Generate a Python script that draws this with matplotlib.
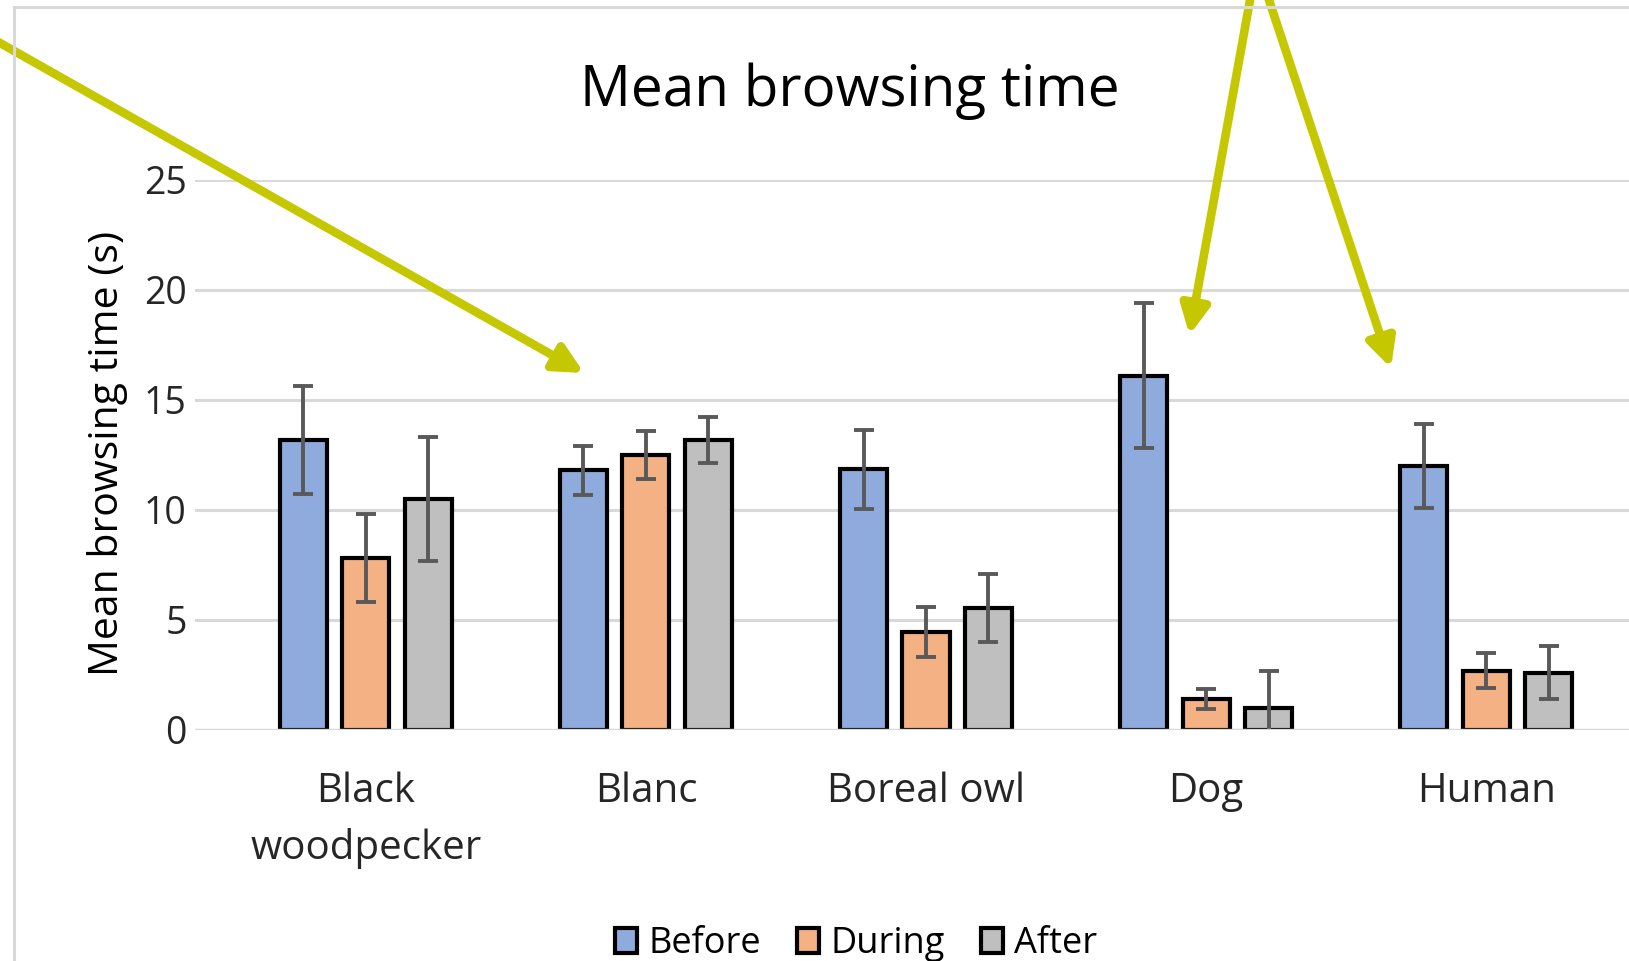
import numpy as np
import matplotlib
matplotlib.use("Agg")
import matplotlib.pyplot as plt
from matplotlib.patches import FancyArrowPatch
from matplotlib.lines import Line2D

plt.rcParams['font.family'] = ['Open Sans', 'DejaVu Sans']

# data
categories = ['Black\nwoodpecker', 'Blanc', 'Boreal owl', 'Dog', 'Human']
before = [13.2, 11.8, 11.85, 16.1, 12.0]
before_err = [2.45, 1.1, 1.8, 3.3, 1.9]
during = [7.8, 12.5, 4.45, 1.4, 2.7]
during_err = [2.0, 1.1, 1.15, 0.45, 0.8]
after = [10.5, 13.2, 5.55, 1.0, 2.6]
after_err = [2.8, 1.05, 1.55, 1.7, 1.2]
series = ['Before', 'During', 'After']
colors = ['#8faadc', '#f4b183', '#bfbfbf']

W, H = 1629, 961
fig = plt.figure(figsize=(W / 100, H / 100), dpi=100)
# plot area: x from 195px to right edge, y from 180px (25) to 730px (0)
ax = fig.add_axes([195 / W, 1 - 730 / H, (W - 195) / W, 550 / H])

x = np.arange(len(categories))
slot = 0.223
bw = 0.168
vals = [before, during, after]
errs = [before_err, during_err, after_err]
for i in range(3):
    ax.bar(x + (i - 1) * slot, vals[i], bw, color=colors[i], edgecolor='black',
           linewidth=3.0, label=series[i], zorder=2)
    ax.errorbar(x + (i - 1) * slot, vals[i], yerr=errs[i], fmt='none',
                ecolor='#595959', elinewidth=2.8, capsize=7.2, capthick=2.8, zorder=3)

ax.set_xlim(-0.61, 4.51)
ax.set_ylim(0, 25)
ax.set_yticks([0, 5, 10, 15, 20, 25])
ax.yaxis.grid(True, color='#d9d9d9', linewidth=2.2, zorder=0)
ax.set_axisbelow(True)
ax.axhline(0, color='#d9d9d9', linewidth=2.4, zorder=4)
for s in ax.spines.values():
    s.set_visible(False)
ax.set_xticks(x)
ax.set_xticklabels(categories, linespacing=1.52)
ax.tick_params(axis='both', length=0, colors='#262626')
ax.tick_params(axis='x', pad=30, labelsize=29)
ax.tick_params(axis='y', pad=6, labelsize=27)

ax.set_ylabel('Mean browsing time (s)', fontsize=29.5, color='black', va='center', ha='center')
ax.yaxis.set_label_coords((108 - 195) / 1434, 0.502)

fig.text(850 / W, 1 - 106 / H, 'Mean browsing time', fontsize=40.8, ha='center',
         va='baseline', color='black')

ax.legend(loc='center', bbox_to_anchor=(856 / W, 17 / H), bbox_transform=fig.transFigure,
          ncol=3, frameon=False, fontsize=26, handlelength=0.62, handleheight=0.72,
          handletextpad=0.3, columnspacing=1.0, borderpad=0)
for h in ax.get_legend().legend_handles:
    h.set_linewidth(3.0)

# chart area border (left and top sides visible)
fig.add_artist(Line2D([13.5 / W, 13.5 / W], [0, 1 - 7 / H], transform=fig.transFigure,
                      color='#d9d9d9', linewidth=2.2))
fig.add_artist(Line2D([13.5 / W, 1], [1 - 7 / H, 1 - 7 / H], transform=fig.transFigure,
                      color='#d9d9d9', linewidth=2.2))

# yellow annotation arrows (pixel coords, origin bottom-left)
arrow_col = '#c5c800'
arrows = [((-30, H - 26), (584, H - 373)),
          ((1256.7, H + 37), (1189.5, H - 335)),
          ((1256.7, H + 37), (1391, H - 368))]
for a, b in arrows:
    p = FancyArrowPatch((a[0] / W, a[1] / H), (b[0] / W, b[1] / H),
                        transform=fig.transFigure,
                        arrowstyle='-|>,head_length=17,head_width=8.5',
                        mutation_scale=1, color=arrow_col, linewidth=6.2,
                        shrinkA=0, shrinkB=0, clip_on=False)
    fig.add_artist(p)

fig.savefig('out.png', dpi=100)
